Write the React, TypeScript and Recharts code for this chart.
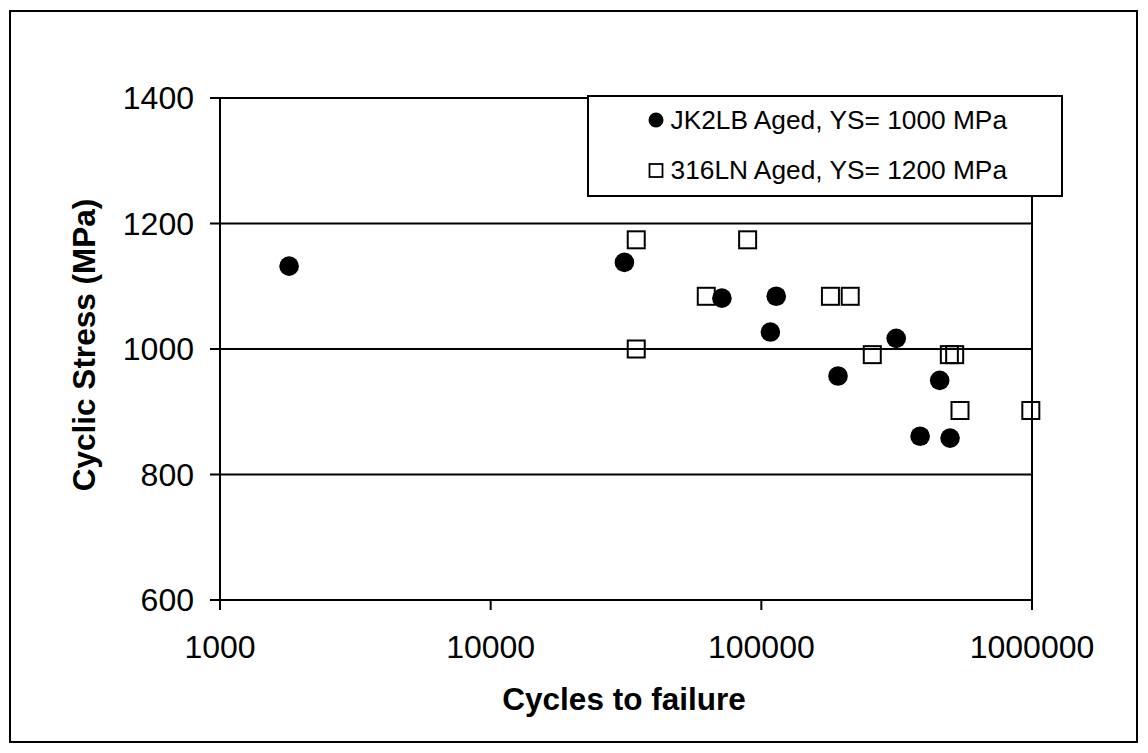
import React from 'react';
import {
  ScatterChart,
  Scatter,
  XAxis,
  YAxis,
  CartesianGrid,
  ReferenceLine,
  Legend,
} from 'recharts';

// ---- Data ----
const jk2lbCycles = [1800, 31200, 71500, 113500, 108000, 315000, 192000, 456000, 386000, 498000];
const jk2lbStress = [1132, 1138, 1081, 1084, 1027, 1017, 957, 950, 861, 858];

const ln316Cycles = [34500, 89000, 62600, 180000, 213000, 34500, 257000, 495000, 518000, 542000, 990000];
const ln316Stress = [1174, 1174, 1084, 1084, 1084, 1000, 991, 991, 991, 902, 902];

const xTicks = [1000, 10000, 100000, 1000000];
const yTicks = [600, 800, 1000, 1200, 1400];

const seriesNames = ['JK2LB Aged, YS= 1000 MPa', '316LN Aged, YS= 1200 MPa'];
const xTitle = 'Cycles to failure';
const yTitle = 'Cyclic Stress (MPa)';

const jk2lbData = jk2lbCycles.map((x, i) => ({ x, y: jk2lbStress[i] }));
const ln316Data = ln316Cycles.map((x, i) => ({ x, y: ln316Stress[i] }));

const FONT = '"Liberation Sans", Arial, Helvetica, sans-serif';

const CircleShape = (props: any) => {
  const { cx, cy } = props;
  if (cx == null || cy == null) return null;
  return <circle cx={cx} cy={cy} r={9.8} fill="#000" />;
};

const SquareShape = (props: any) => {
  const { cx, cy } = props;
  if (cx == null || cy == null) return null;
  const s = 17;
  return (
    <rect x={cx - s / 2} y={cy - s / 2} width={s} height={s} fill="none" stroke="#000" strokeWidth={2} />
  );
};

const XTitle = () => (
  <text x={616} y={702} textAnchor="middle" fontFamily={FONT} fontSize={31.5} fontWeight="bold" fill="#000">
    {xTitle}
  </text>
);

const YTitle = () => {
  const cx = 76;
  const cy = 337;
  return (
    <text
      x={cx}
      y={cy}
      dy="0.355em"
      transform={`rotate(-90 ${cx} ${cy})`}
      textAnchor="middle"
      fontFamily={FONT}
      fontSize={31.5}
      fontWeight="bold"
      fill="#000"
    >
      {yTitle}
    </text>
  );
};

const LegendBox = () => (
  <svg width={476} height={102} style={{ display: 'block' }}>
    <rect x={1} y={1} width={474} height={100} fill="#fff" stroke="#000" strokeWidth={2} />
    <circle cx={69} cy={25} r={7.5} fill="#000" />
    <text x={83.5} y={34.3} fontFamily={FONT} fontSize={26.3} fill="#000">
      {seriesNames[0]}
    </text>
    <rect x={62.5} y={69} width={13} height={13} fill="none" stroke="#000" strokeWidth={1.8} />
    <text x={83.5} y={84} fontFamily={FONT} fontSize={26.3} fill="#000">
      {seriesNames[1]}
    </text>
  </svg>
);

export default function App() {
  return (
    <div style={{ position: 'relative', width: 1132, height: 737, background: '#fff' }}>
      <div
        style={{
          position: 'absolute',
          left: 1,
          top: 2,
          width: 1129,
          height: 733,
          border: '2px solid #000',
          boxSizing: 'border-box',
          pointerEvents: 'none',
        }}
      />
      <ScatterChart width={1132} height={737} margin={{ top: 90, right: 108, bottom: 0, left: 0 }}>
        <CartesianGrid horizontal={true} vertical={false} stroke="#000" strokeWidth={2} />
        <XAxis
          type="number"
          dataKey="x"
          scale="log"
          domain={[1000, 1000000]}
          ticks={xTicks}
          height={145}
          tickSize={10}
          tickMargin={25}
          tickFormatter={(v: number) => String(v)}
          tick={{ fill: '#000', fontSize: 32, fontFamily: FONT }}
          axisLine={{ stroke: '#000', strokeWidth: 2 }}
          tickLine={{ stroke: '#000', strokeWidth: 2 }}
          label={XTitle}
        />
        <YAxis
          type="number"
          dataKey="y"
          domain={[600, 1400]}
          ticks={yTicks}
          width={212}
          tickSize={10}
          tickMargin={16}
          tick={{ fill: '#000', fontSize: 32, fontFamily: FONT }}
          axisLine={{ stroke: '#000', strokeWidth: 2 }}
          tickLine={{ stroke: '#000', strokeWidth: 2 }}
          label={YTitle}
        />
        <ReferenceLine x={1000000} stroke="#000" strokeWidth={2} />
        <Scatter
          name={seriesNames[1]}
          data={ln316Data}
          shape={SquareShape}
          isAnimationActive={false}
        />
        <Scatter
          name={seriesNames[0]}
          data={jk2lbData}
          shape={CircleShape}
          isAnimationActive={false}
        />
        <Legend
          layout="horizontal"
          verticalAlign="middle"
          align="center"
          content={LegendBox}
          wrapperStyle={{ position: 'absolute', left: 579, top: 87, width: 476, height: 102 }}
        />
      </ScatterChart>
    </div>
  );
}
